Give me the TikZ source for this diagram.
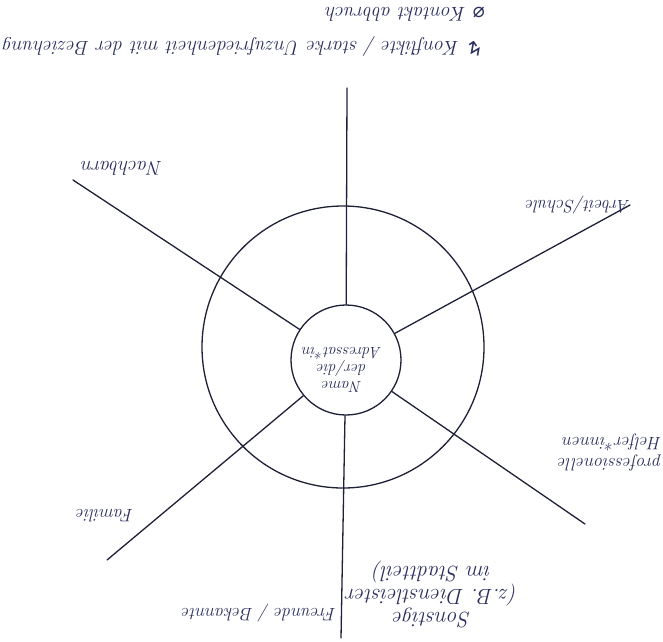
\documentclass[tikz,border=0pt]{standalone}
\usepackage{fontspec}
\newfontfamily\symfont{DejaVu Sans}
\definecolor{ink}{HTML}{1E2038}
\definecolor{pen}{HTML}{2B2F5E}
\tikzset{
  ring/.style={circle, draw=ink, line width=1.3pt, inner sep=0pt, fill=none},
  spoke/.style={draw=ink, line width=1.3pt, line cap=round},
  lbl/.style={text=pen, font=\itshape\fontsize{18}{21}\selectfont, inner sep=1pt},
  lblbig/.style={text=pen, font=\itshape\fontsize{20}{22}\selectfont, inner sep=1pt},
  lblhuge/.style={text=pen, font=\itshape\fontsize{22}{23}\selectfont, inner sep=1pt},
  lblmid/.style={text=pen, font=\itshape\fontsize{16}{17}\selectfont, inner sep=1pt}
}
\begin{document}
\begin{tikzpicture}[x=1pt,y=-1pt]
\useasboundingbox (0,0) rectangle (663,641);
\fill[white] (0,0) rectangle (663,641);

% circles
\node[ring, minimum size=282pt] (outer) at (343,347) {};
\node[ring, minimum size=110pt] (inner) at (346,360) {};

% spoke ends
\coordinate (nTop) at (347,88);
\coordinate (nUL) at (73,180);
\coordinate (nUR) at (630,205);
\coordinate (nLR) at (585,524);
\coordinate (nBot) at (341,638);
\coordinate (nLL) at (107,560);

\draw[spoke] (inner) -- (nTop);
\draw[spoke] (inner) -- (nUL);
\draw[spoke] (inner) -- (nUR);
\draw[spoke] (inner) -- (nLR);
\draw[spoke] (inner) -- (nBot);
\draw[spoke] (inner) -- (nLL);

% centre text
\node[lblmid, rotate=180, align=center] (tCenter) at (342,370) {Name\\der/die\\Adressat*in};

% sector labels
\node[lblbig, rotate=180] (tNach) at (122,168) {Nachbarn};
\node[lbl, rotate=180] (tArb) at (578,205) {Arbeit/Schule};
\node[lbl, rotate=180, align=left] (tProf) at (610,452) {professionelle\\Helfer*innen};
\node[lblhuge, rotate=180, align=center] (tSonst) at (432,594) {Sonstige\\(z.B. Dienstleister\\im Stadtteil)};
\node[lbl, rotate=180] (tFreu) at (259,613) {Freunde / Bekannte};
\node[lbl, rotate=180] (tFam) at (105,516) {Familie};

% legend
\node[lblbig, rotate=180, anchor=west] (leg1) at (484,46) {{\upshape\symfont ↯}\ Konflikte / starke Unzufriedenheit mit der Beziehung};
\node[lblbig, rotate=180, anchor=west] (leg2) at (486,14) {{\upshape\symfont ⌀}\ Kontakt abbruch};
\end{tikzpicture}
\end{document}
